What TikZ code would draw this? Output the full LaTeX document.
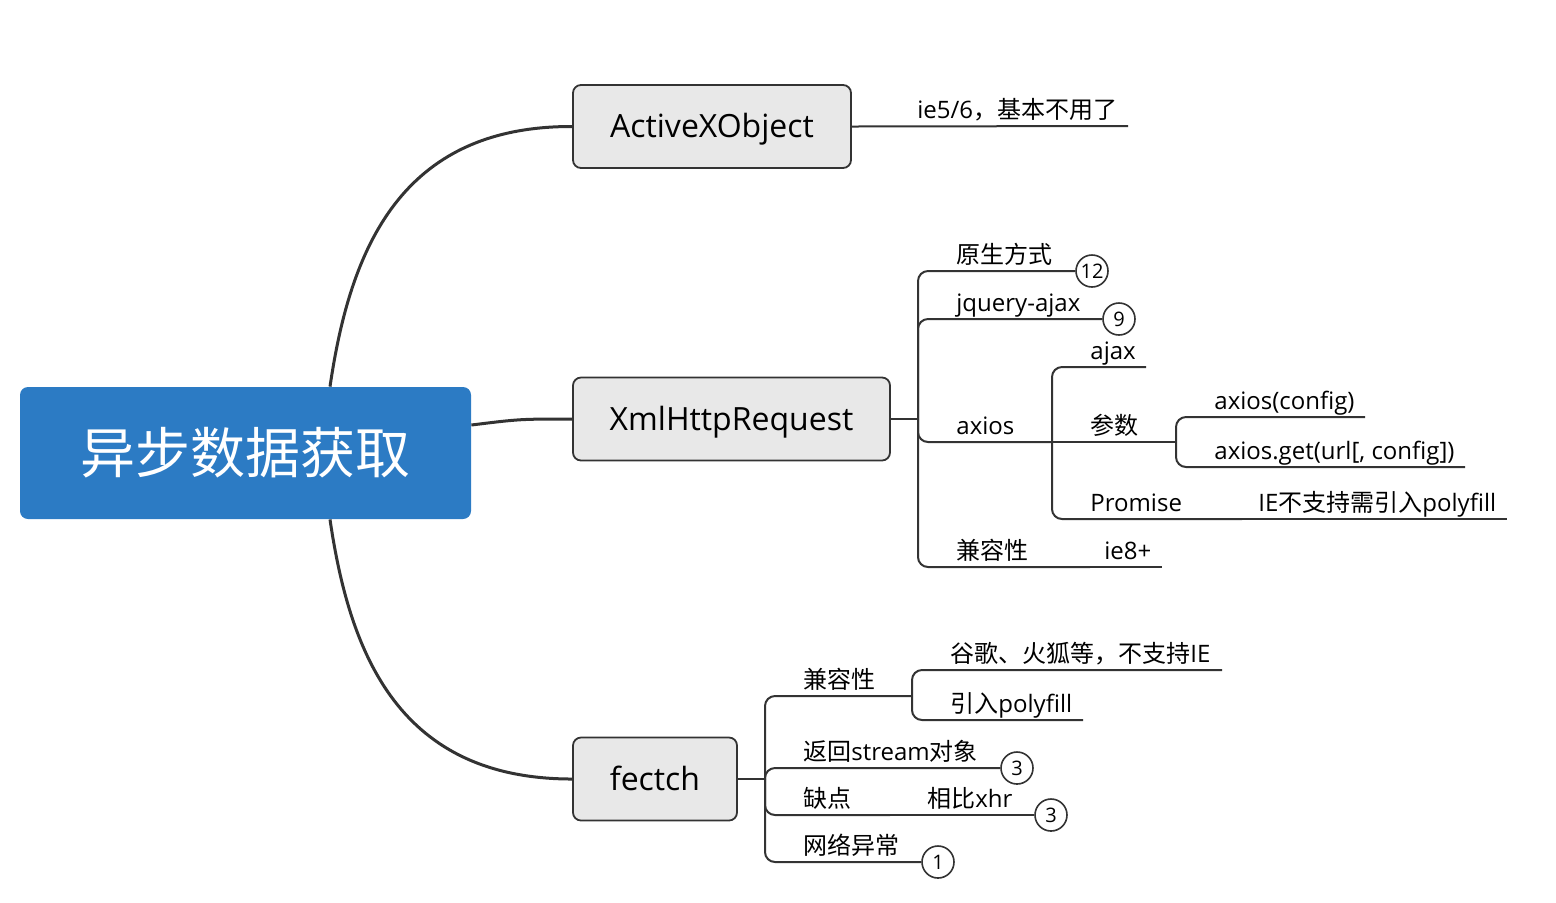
\documentclass[tikz,border=0pt]{standalone}
\usepackage{fontspec}
\setmainfont{Open Sans}
\newfontfamily\zh{Noto Sans CJK SC}
\usetikzlibrary{calc}
\definecolor{rootblue}{HTML}{2C7BC4}
\definecolor{boxgray}{HTML}{E8E8E8}
\definecolor{linegray}{HTML}{333333}
\tikzset{
  rootbox/.style={fill=rootblue, rounded corners=4pt, minimum width=225.5pt, minimum height=66pt,
    text=white, font=\zh\fontsize{27.5}{30}\selectfont},
  mainbox/.style={fill=boxgray, draw=linegray, line width=0.9pt, rounded corners=4pt,
    minimum height=41.5pt, text height=13pt, text depth=2pt, font=\fontsize{16}{18}\selectfont},
  leaf/.style={anchor=base west, inner sep=0pt, font=\fontsize{12}{14}\selectfont},
  badge/.style={circle, draw=linegray, line width=0.8pt, minimum size=16pt, inner sep=0pt,
    font=\fontsize{10}{10}\selectfont},
  branch/.style={draw=linegray, line width=1pt, rounded corners=5pt},
  stem/.style={draw=linegray, line width=1.5pt}
}
\begin{document}
\begin{tikzpicture}[x=0.5pt, y=-0.5pt]
  \useasboundingbox (0,0) rectangle (1556,902);

  % centre and the three main branches
  \node[rootbox] (root) at (245.5,453) {异步数据获取};
  \node[mainbox, minimum width=139pt] (ax) at (712,126.5) {ActiveXObject};
  \node[mainbox, minimum width=158.5pt] (xhr) at (731.5,419) {XmlHttpRequest};
  \node[mainbox, minimum width=82pt] (fe) at (655,779) {fectch};

  \draw[stem] ($(root.north)+(84.5,0)$) .. controls (350,250) and (400,126) .. (ax.west);
  \draw[stem] ($(root.east)+(0,-28)$) .. controls (520,419) .. (xhr.west);
  \draw[stem] ($(root.south)+(84.5,0)$) .. controls (350,656) and (400,779) .. (fe.west);

  % ActiveXObject
  \coordinate (ax-end) at (1128,126);
  \node[leaf] (t-ie56) at (917,118) {ie5/6{\zh ，基本不用了}};
  \draw[branch] (ax.east) -- (ax-end);

  % XmlHttpRequest
  \coordinate (xf) at (918,419);
  \draw[branch] (xhr.east) -- (xf);
  \node[badge] (b12) at (1092,271) {12};
  \node[leaf] (t-yuan) at (956,263) {\zh 原生方式};
  \draw[branch] (xf) |- (b12.west);
  \node[badge] (b9) at (1119,319) {9};
  \node[leaf] (t-jq) at (956,311) {jquery-ajax};
  \draw[branch] (xf) |- (b9.west);
  \coordinate (af) at (1052,442);
  \node[leaf] (t-axios) at (956,434) {axios};
  \draw[branch] (xf) |- (af);
  \coordinate (ce) at (1090,567);
  \node[leaf] (t-jr) at (956,559) {\zh 兼容性};
  \draw[branch] (xf) |- (ce);
  \coordinate (ie8-end) at (1162,567);
  \node[leaf] (t-ie8) at (1104,559) {ie8+};
  \draw[branch] (ce) -- (ie8-end);

  % axios
  \coordinate (ajax-end) at (1146,367);
  \node[leaf] (t-ajax) at (1090,359) {ajax};
  \draw[branch] (af) |- (ajax-end);
  \coordinate (pf) at (1176,442);
  \node[leaf] (t-cs) at (1090,434) {\zh 参数};
  \draw[branch] (af) -- (pf);
  \coordinate (pe) at (1242,519);
  \node[leaf] (t-prom) at (1090,511) {Promise};
  \draw[branch] (af) |- (pe);
  \coordinate (poly-end) at (1507,519);
  \node[leaf] (t-poly) at (1258,511) {IE{\zh 不支持需引入}polyfill};
  \draw[branch] (pe) -- (poly-end);
  \coordinate (cfg-end) at (1365,417);
  \node[leaf] (t-cfg) at (1214,409) {axios(config)};
  \draw[branch] (pf) |- (cfg-end);
  \coordinate (get-end) at (1465,467);
  \node[leaf] (t-get) at (1214,459) {axios.get(url[, config])};
  \draw[branch] (pf) |- (get-end);

  % fectch
  \coordinate (ff) at (765,779);
  \draw[branch] (fe.east) -- (ff);
  \coordinate (fc) at (912,696);
  \node[leaf] (t-fjr) at (803,688) {\zh 兼容性};
  \draw[branch] (ff) |- (fc);
  \coordinate (gg-end) at (1222,670);
  \node[leaf] (t-gg) at (950,662) {\zh 谷歌、火狐等，不支持{\rmfamily IE}};
  \draw[branch] (fc) |- (gg-end);
  \coordinate (yr-end) at (1083,720);
  \node[leaf] (t-yr) at (950,712) {{\zh 引入}polyfill};
  \draw[branch] (fc) |- (yr-end);
  \node[badge] (b3a) at (1017,768) {3};
  \node[leaf] (t-stream) at (803,760) {{\zh 返回}stream{\zh 对象}};
  \draw[branch] (ff) |- (b3a.west);
  \coordinate (qd) at (890,815);
  \node[leaf] (t-qd) at (803,807) {\zh 缺点};
  \draw[branch] (ff) |- (qd);
  \node[badge] (b3b) at (1051,815) {3};
  \node[leaf] (t-xhr) at (927,807) {{\zh 相比}xhr};
  \draw[branch] (qd) -- (b3b.west);
  \node[badge] (b1) at (938,862) {1};
  \node[leaf] (t-net) at (803,854) {\zh 网络异常};
  \draw[branch] (ff) |- (b1.west);
\end{tikzpicture}
\end{document}
